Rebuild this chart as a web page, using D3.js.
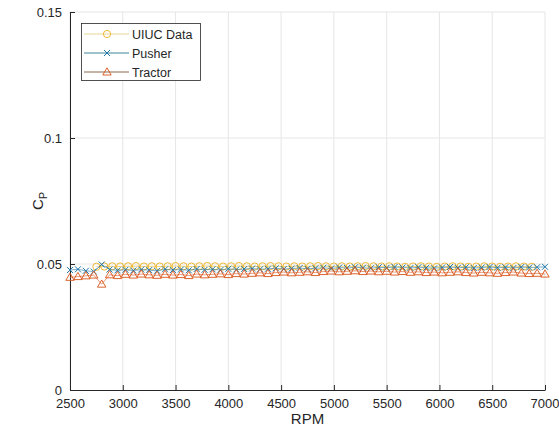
<!DOCTYPE html>
<html>
<head>
<meta charset="utf-8">
<script src="https://cdn.jsdelivr.net/npm/d3@7"></script>
<style>
  html, body { margin: 0; padding: 0; background: #fff; }
  svg { display: block; font-family: "Liberation Sans", Arial, sans-serif; }
</style>
</head>
<body>
<svg id="chart" width="559" height="439"></svg>
<script>
// Power coefficient vs. RPM
const rpm = [2500,2575,2650,2725,2800,2875,2950,3025,3100,3175,3250,3325,3400,3475,3550,
  3625,3700,3775,3850,3925,4000,4075,4150,4225,4300,4375,4450,4525,4600,4675,4750,4825,
  4900,4975,5050,5125,5200,5275,5350,5425,5500,5575,5650,5725,5800,5875,5950,6025,6100,
  6175,6250,6325,6400,6475,6550,6625,6700,6775,6850,6925,7000];

const pusherCp = [
  0.0476,0.0479,0.0473,0.0470,0.0498,0.0478,0.0475,0.0477,0.0474,0.0478,
  0.0476,0.0473,0.0479,0.0476,0.0478,0.0475,0.0480,0.0477,0.0479,0.0476,
  0.0481,0.0478,0.0480,0.0482,0.0479,0.0481,0.0483,0.0480,0.0482,0.0484,
  0.0481,0.0483,0.0485,0.0482,0.0486,0.0484,0.0487,0.0485,0.0483,0.0487,
  0.0485,0.0488,0.0486,0.0484,0.0487,0.0485,0.0483,0.0486,0.0488,0.0485,
  0.0487,0.0484,0.0486,0.0488,0.0485,0.0487,0.0484,0.0488,0.0486,0.0487,0.0489];

const tractorCp = [
  0.0447,0.0450,0.0453,0.0456,0.0420,0.0457,0.0454,0.0459,0.0456,0.0460,
  0.0457,0.0455,0.0459,0.0456,0.0458,0.0454,0.0460,0.0457,0.0459,0.0461,
  0.0458,0.0462,0.0460,0.0463,0.0465,0.0462,0.0466,0.0468,0.0465,0.0467,
  0.0469,0.0466,0.0470,0.0472,0.0469,0.0471,0.0473,0.0470,0.0472,0.0469,
  0.0471,0.0468,0.0470,0.0467,0.0469,0.0466,0.0468,0.0465,0.0467,0.0469,
  0.0466,0.0464,0.0467,0.0465,0.0463,0.0466,0.0468,0.0464,0.0462,0.0463,0.0460];

const uiucRpm = [2750,2825,2900,2975,3050,3125,3200,3275,3350,3425,3500,3575,3650,3725,
  3800,3875,3950,4025,4100,4175,4250,4325,4400,4475,4550,4625,4700,4775,4850,4925,5000,
  5075,5150,5225,5300,5375,5450,5525,5600,5675,5750,5825,5900,5975,6050,6125,6200,6275,
  6350,6425,6500,6575,6650,6725,6800,6875];
const uiucCp = [
  0.0489,0.0490,0.0491,0.0490,0.0491,0.0492,0.0490,0.0491,0.0490,0.0491,
  0.0492,0.0491,0.0490,0.0491,0.0492,0.0491,0.0490,0.0491,0.0492,0.0491,
  0.0490,0.0491,0.0492,0.0491,0.0490,0.0491,0.0490,0.0491,0.0492,0.0491,
  0.0490,0.0491,0.0490,0.0491,0.0492,0.0491,0.0490,0.0491,0.0490,0.0489,
  0.0490,0.0491,0.0490,0.0489,0.0490,0.0491,0.0490,0.0489,0.0490,0.0491,
  0.0490,0.0489,0.0490,0.0491,0.0490,0.0489];

const xTicks = [2500,3000,3500,4000,4500,5000,5500,6000,6500,7000];
const xTickLabels = ["2500","3000","3500","4000","4500","5000","5500","6000","6500","7000"];
const yTicks = [0, 0.05, 0.1, 0.15];
const yTickLabels = ["0", "0.05", "0.1", "0.15"];

const seriesNames = ["UIUC Data", "Pusher", "Tractor"];
const colors = { "UIUC Data": "#EDB120", "Pusher": "#1f77a8", "Tractor": "#D95319" };
const legendLine = { "UIUC Data": "#e8d890", "Pusher": "#3f8598", "Tractor": "#8c6a4c" };

const margin = { left: 70, right: 14, top: 12, bottom: 49 };
const W = 559, H = 439;
const svg = d3.select("#chart");

const x = d3.scaleLinear().domain([2500, 7000]).range([margin.left, W - margin.right]);
const y = d3.scaleLinear().domain([0, 0.15]).range([H - margin.bottom, margin.top]);

// grid
const grid = svg.append("g").attr("stroke", "#e6e6e6").attr("stroke-width", 1);
xTicks.forEach(t => grid.append("line")
  .attr("x1", x(t)).attr("x2", x(t)).attr("y1", y(0)).attr("y2", y(0.15)));
[0.05, 0.1, 0.15].forEach(t => grid.append("line")
  .attr("x1", x(2500)).attr("x2", x(7000)).attr("y1", y(t)).attr("y2", y(t)));

// axes
const xAxis = d3.axisBottom(x).tickValues(xTicks).tickSizeInner(-5).tickSizeOuter(0).tickPadding(9)
  .tickFormat((d, i) => xTickLabels[i]);
const yAxis = d3.axisLeft(y).tickValues(yTicks).tickSizeInner(-5).tickSizeOuter(0).tickPadding(8)
  .tickFormat((d, i) => yTickLabels[i]);

const gx = svg.append("g").attr("transform", `translate(0,${y(0)})`).call(xAxis);
const gy = svg.append("g").attr("transform", `translate(${x(2500)},0)`).call(yAxis);
[gx, gy].forEach(g => {
  g.select(".domain").attr("stroke", "#262626");
  g.selectAll(".tick line").attr("stroke", "#262626");
  g.selectAll(".tick text").attr("fill", "#262626").attr("font-size", 13)
    .attr("font-family", "Liberation Sans, Arial, sans-serif");
});
// keep the last x label inside the window
gx.selectAll(".tick text").filter((d, i) => i === xTicks.length - 1)
  .attr("text-anchor", "end").attr("dx", 14);

// axis titles
svg.append("text").attr("x", (x(2500) + x(7000)) / 2).attr("y", 424)
  .attr("text-anchor", "middle").attr("font-size", 15).attr("fill", "#262626").text("RPM");
const yl = svg.append("text")
  .attr("transform", `translate(43,${(y(0) + y(0.15)) / 2}) rotate(-90)`)
  .attr("text-anchor", "middle").attr("font-size", 15).attr("fill", "#262626");
yl.append("tspan").text("C");
yl.append("tspan").attr("font-size", 11).attr("dy", 4).text("P");

// markers
const circle = (g, cx, cy, c) => g.append("circle").attr("cx", cx).attr("cy", cy).attr("r", 3.6)
  .attr("fill", "none").attr("stroke", c).attr("stroke-width", 0.9);
const cross = (g, cx, cy, c) => g.append("path")
  .attr("d", `M${cx-3},${cy-3}L${cx+3},${cy+3}M${cx-3},${cy+3}L${cx+3},${cy-3}`)
  .attr("stroke", c).attr("stroke-width", 1);
const tri = (g, cx, cy, c) => g.append("path")
  .attr("d", `M${cx},${cy-4.2}L${cx+4.2},${cy+3}L${cx-4.2},${cy+3}Z`)
  .attr("fill", "none").attr("stroke", c).attr("stroke-width", 0.9);

const line = d3.line().x(d => x(d[0])).y(d => y(d[1]));
function drawSeries(xs, ys, name, marker) {
  const pts = xs.map((v, i) => [v, ys[i]]);
  const g = svg.append("g");
  g.append("path").datum(pts).attr("d", line).attr("fill", "none")
    .attr("stroke", colors[name]).attr("stroke-width", 0.6);
  pts.forEach(p => marker(g, x(p[0]), y(p[1]), colors[name]));
}
drawSeries(uiucRpm, uiucCp, "UIUC Data", circle);
drawSeries(rpm, pusherCp, "Pusher", cross);
drawSeries(rpm, tractorCp, "Tractor", tri);

// legend
const lg = svg.append("g");
lg.append("rect").attr("x", 81.5).attr("y", 23.5).attr("width", 119).attr("height", 57)
  .attr("fill", "#fff").attr("stroke", "#262626").attr("stroke-width", 0.8);
const markers = { "UIUC Data": circle, "Pusher": cross, "Tractor": tri };
seriesNames.forEach((name, i) => {
  const cy = 34 + i * 19;
  lg.append("line").attr("x1", 84).attr("x2", 129).attr("y1", cy).attr("y2", cy)
    .attr("stroke", legendLine[name]).attr("stroke-width", 1);
  markers[name](lg, 107, cy, colors[name]);
  lg.append("text").attr("x", 132).attr("y", cy + 4.5).attr("font-size", 12.5)
    .attr("fill", "#262626").text(name);
});
</script>
</body>
</html>
